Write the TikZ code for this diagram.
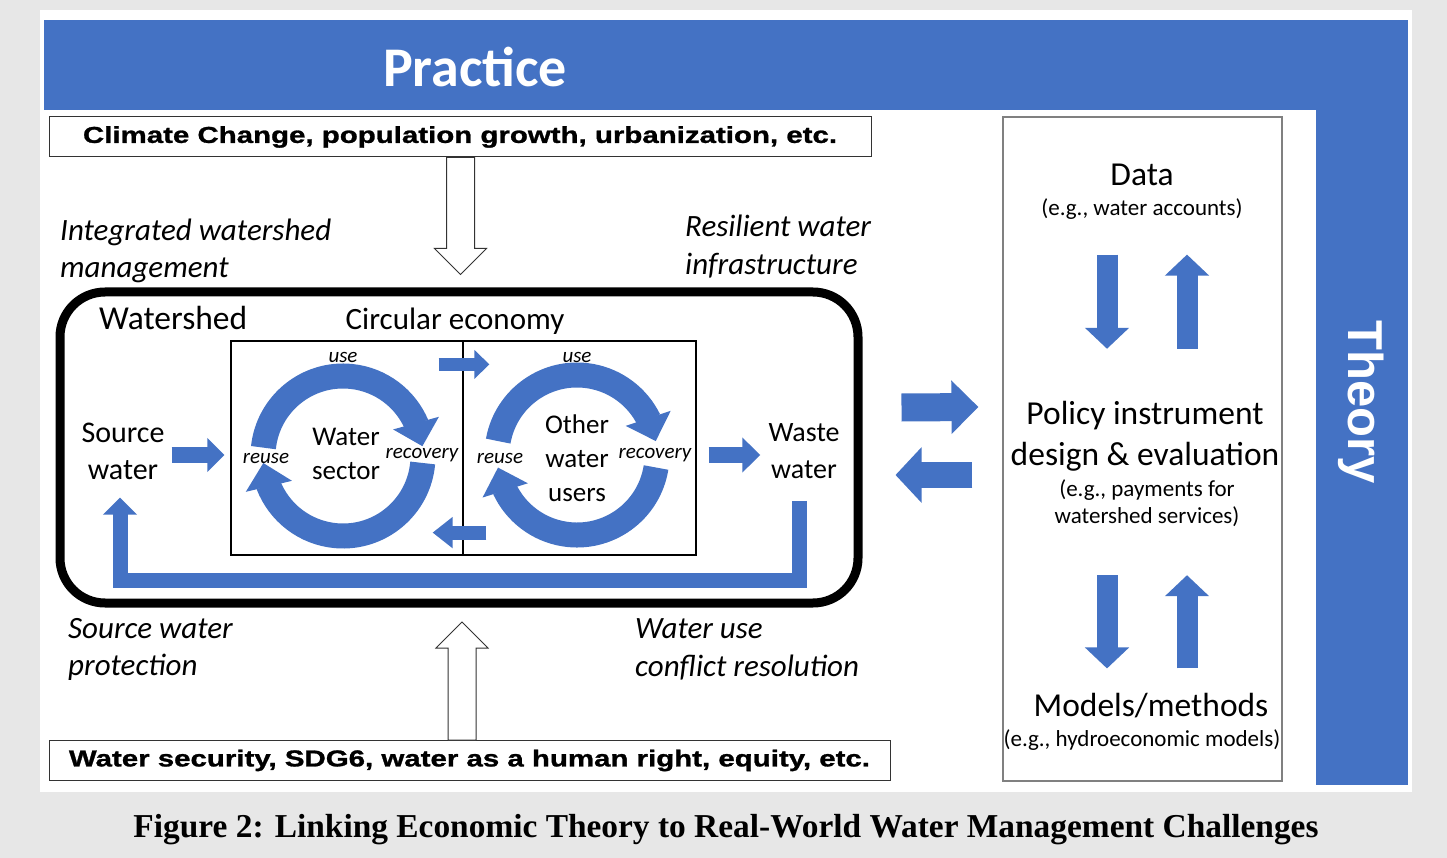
\documentclass[tikz,border=0pt]{standalone}
\usepackage{fontspec}
\setmainfont{Carlito}
\newfontfamily\boxfont{Liberation Sans}[FakeStretch=1.28,FakeBold=1.2]
\newfontfamily\barfont{Liberation Sans}
\newfontfamily\capfont{Liberation Serif}
\usetikzlibrary{arrows.meta,bending,shapes.arrows}
\definecolor{wblue}{HTML}{4472C4}
\definecolor{pagegray}{HTML}{E7E7E7}
\definecolor{rulegray}{HTML}{808080}

\begin{document}
\begin{tikzpicture}[x=1pt,y=1pt,
    every node/.style={inner sep=0pt},
    body/.style={font=\fontsize{28}{37}\selectfont, align=center},
    cyc/.style={font=\fontsize{27}{34}\selectfont, align=center},
    heading/.style={font=\fontsize{31}{37}\selectfont},
    panelhead/.style={font=\fontsize{33.5}{41}\selectfont, align=center},
    eg/.style={font=\fontsize{23}{27}\selectfont, align=center},
    aim/.style={font=\fontsize{31}{37.5}\selectfont\itshape, align=left, anchor=west},
    flowtxt/.style={font=\fontsize{21}{25}\selectfont\itshape},
    issue/.style={draw=black!80, line width=1pt, fill=white, minimum height=40pt, font=\fontsize{23}{28}\boxfont\bfseries},
    hollow/.style={single arrow, draw=black!80, fill=white, line width=1pt, inner sep=13.5pt, single arrow head extend=12pt},
    inner/.style={draw, line width=1.2pt, minimum height=214pt},
    ring/.style={wblue, line width=25pt, -{Triangle[width=46pt,length=24pt]}},
    blockarrow/.style n args={3}{wblue, line width=#1, -{Triangle[width=#2,length=#3]}},
    vert/.style={blockarrow={21pt}{43pt}{21pt}}]
  \fill[pagegray] (0,0) rectangle (1447,-858);
  \useasboundingbox (0,0) rectangle (1447,-858);
  \fill[white] (40,-10) rectangle (1412,-792);
  \fill[wblue] (44,-20) rectangle (1408,-110);
  \fill[wblue] (1316,-110) rectangle (1408,-785);
  \node[text=white, font=\fontsize{56}{60}\selectfont\bfseries] (practice) at (475,-67) {Practice};
  \node[text=white, rotate=-90, font=\fontsize{49}{55}\barfont\bfseries] (theory) at (1361,-402) {Theory};

  \node[issue, minimum width=822pt] (climate) at (460,-137) {Climate Change, population growth, urbanization, etc.};
  \node[issue, minimum width=841pt] (goals) at (469.5,-760.5) {Water security, SDG6, water as a human right, equity, etc.};
  \node[hollow, minimum height=117pt, shape border rotate=270] (push) at (460.5,-209) {};
  \node[hollow, minimum height=118pt, shape border rotate=90] (pull) at (462,-688) {};

  \node[aim] (iwm) at (60,-251) {Integrated watershed\\management};
  \node[aim] (rwi) at (685,-246.5) {Resilient water\\infrastructure};
  \node[aim] (swp) at (68,-649.5) {Source water\\protection};
  \node[aim] (wuc) at (635,-649.5) {Water use\\conflict resolution};

  \node[draw, line width=9pt, rounded corners=45pt, minimum width=798pt, minimum height=311pt] (wsbox) at (459,-447.5) {};
  \node[heading, anchor=west, font=\fontsize{33.5}{37}\selectfont] (wshed) at (99,-318) {Watershed};
  \node[heading] (circ) at (455,-321) {Circular economy};
  \node[inner, minimum width=232pt] (wsecbox) at (347,-448) {};
  \node[inner, minimum width=233pt] (userbox) at (579.5,-448) {};

  \coordinate (wsc) at (343,-456);
  \coordinate (usc) at (577,-455);
  \draw[ring] ([shift={(174:80)}]wsc) arc[start angle=174, end angle=7, radius=80];
  \draw[ring] ([shift={(-5:80)}]wsc) arc[start angle=-5, end angle=-175, radius=80];
  \draw[ring] ([shift={(170:80)}]usc) arc[start angle=170, end angle=10, radius=80];
  \draw[ring] ([shift={(-9:80)}]usc) arc[start angle=-9, end angle=-171, radius=80];

  \node[cyc] (wsec) at (346,-454) {Water\\sector};
  \node[cyc] (users) at (577,-458) {Other\\water\\users};
  \node[flowtxt] (use1) at (343,-357) {use};
  \node[flowtxt] (use2) at (577,-357) {use};
  \node[flowtxt] (reuse1) at (266,-458) {reuse};
  \node[flowtxt] (reuse2) at (500,-458) {reuse};
  \node[flowtxt] (recov1) at (422,-455) {recovery};
  \node[flowtxt] (recov2) at (655,-455) {recovery};

  \node[body, font=\fontsize{30}{37}\selectfont] (srcw) at (123,-451) {Source\\water};
  \node[body] (wastew) at (804,-451) {Waste\\water};

  \draw[blockarrow={16pt}{33pt}{17pt}] ([shift={(7,-4)}]srcw.east) -- ([shift={(-6,-7)}]wsecbox.west);
  \draw[blockarrow={13pt}{28pt}{15pt}] ([shift={(-25,-24)}]wsecbox.north east) -- ([shift={(27,-24)}]userbox.north west);
  \draw[blockarrow={14pt}{30pt}{20pt}] ([shift={(24,23)}]userbox.south west) -- ([shift={(-31,23)}]wsecbox.south east);
  \draw[blockarrow={16pt}{34pt}{18pt}] ([shift={(12,-7)}]userbox.east) -- ([shift={(-8,-4)}]wastew.west);
  \coordinate (loopb) at (459,-580);
  \draw[blockarrow={15pt}{33pt}{17pt}] ([shift={(-5,-22)}]wastew.south) |- (loopb) -| ([shift={(-3,-18)}]srcw.south);

  \node[draw=rulegray, line width=1.2pt, minimum width=279pt, minimum height=664pt] (theorybox) at (1142.5,-449) {};
  \node[panelhead] (data) at (1142,-175) {Data};
  \node[eg] (dataeg) at (1142,-209) {(e.g., water accounts)};
  \node[panelhead] (policy) at (1145,-436) {Policy instrument\\design \& evaluation};
  \node[eg] (policyeg) at (1147,-503.5) {(e.g., payments for\\watershed services)};
  \node[panelhead] (models) at (1151,-706) {Models/methods};
  \node[eg] (modelseg) at (1142,-740) {(e.g., hydroeconomic models)};

  \draw[blockarrow={28pt}{52pt}{27pt}] ([shift={(39,40)}]wsbox.east) -- ([shift={(-24,42)}]theorybox.west);
  \draw[blockarrow={26pt}{54pt}{26pt}] ([shift={(-30,-26)}]theorybox.west) -- ([shift={(33,-27.5)}]wsbox.east);

  \draw[vert] ([shift={(-35,-35)}]dataeg.south) -- ([shift={(-38,52)}]policy.north);
  \draw[vert] ([shift={(42,52)}]policy.north) -- ([shift={(45,-35)}]dataeg.south);
  \draw[vert] ([shift={(-40,-48)}]policyeg.south) -- ([shift={(-44,25)}]models.north);
  \draw[vert] ([shift={(36,25)}]models.north) -- ([shift={(40,-48)}]policyeg.south);

  \node[font=\fontsize{33.4}{38}\capfont\bfseries] (caption) at (726,-830) {Figure 2: Linking Economic Theory to Real-World Water Management Challenges};
\end{tikzpicture}
\end{document}
